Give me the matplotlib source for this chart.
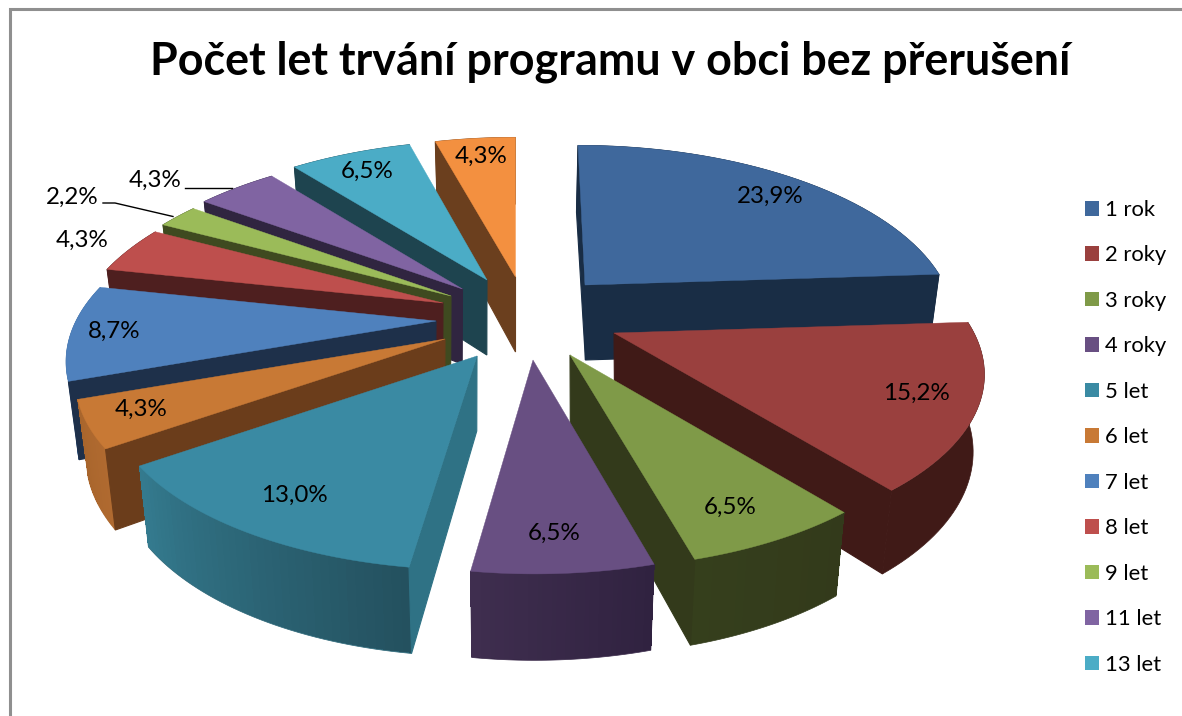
import numpy as np
import matplotlib
matplotlib.use("Agg")
import matplotlib.pyplot as plt
from matplotlib.patches import Polygon, Patch
from matplotlib.colors import to_rgb

categories = ["1 rok", "2 roky", "3 roky", "4 roky", "5 let", "6 let", "7 let", "8 let", "9 let", "11 let", "13 let", ""]
values = [23.9, 15.2, 6.5, 6.5, 13.0, 4.3, 8.7, 4.3, 2.2, 4.3, 6.5, 4.3]
labels = ["23,9%", "15,2%", "6,5%", "6,5%", "13,0%", "4,3%", "8,7%", "4,3%", "2,2%", "4,3%", "6,5%", "4,3%"]
title = "Počet let trvání programu v obci bez přerušení"

# styling: explosion of each slice (pixels right / up from pie centre), colours
explode_x = [70, 99, 55, 18, -38, -70, -79, -72, -64, -52.5, -28, 0.5]
explode_y = [35, -13, -35, -40, -36, -19, -1, 17, 24, 31, 40, 43]
top_col = ["#3F689C", "#9A403E", "#7F9A48", "#684F82", "#3A8AA3", "#C87935",
           "#4F81BD", "#BE4F4D", "#9BBB59", "#8064A2", "#4BACC6", "#F39040"]
face_col = ["#192D45", "#401A17", "#333A1B", "#302240", "#2F7285", "#6B3D1B",
            "#1E304A", "#4E1F1F", "#3F4A20", "#302540", "#1E444F", "#6B3F1E"]
arc_a = ["#192D45", "#401A17", "#333A1B", "#302240", "#24515F", "#B06A30",
         "#3A6AA0", "#4E1F1F", "#3F4A20", "#302540", "#1E444F", "#6B3F1E"]
arc_b = ["#192D45", "#401A17", "#353F1C", "#3F2E4F", "#347A8E", "#A8652C",
         "#3A6AA0", "#4E1F1F", "#3F4A20", "#302540", "#1E444F", "#6B3F1E"]
label_xy = [(770, 196), (916, 393), (730, 507), (554, 533), (294, 495), (141, 409),
            (114, 331), (82, 240), (72, 197), (155, 180), (367, 171), (481, 156)]

CX, CY = 515, 320
A, B, K, H = 360, 169, 0.21, 75
LEAN = 0.1
XSHRINK = 0.976


def top_pt(i, th):
    X, Y = np.sin(th), np.cos(th)
    s = 1 / (1 + K * Y)
    ax_, ay_ = CX + explode_x[i], CY - explode_y[i]
    return ax_ + A * X * s - LEAN * (ax_ - CX) * Y, ay_ - B * Y * s


def bot_pt(i, th, apex=False):
    if apex:
        ax_, ay_ = CX + explode_x[i], CY - explode_y[i]
        return CX + (ax_ - CX) * (XSHRINK + 0.03), ay_ + H
    x, y = top_pt(i, th)
    s = 1 / (1 + K * np.cos(th))
    return CX + (x - CX) * XSHRINK, y + H * s ** 0.6


def shoelace(q):
    q = np.array(q)
    return 0.5 * np.sum(q[:, 0] * np.roll(q[:, 1], -1) - np.roll(q[:, 0], -1) * q[:, 1])


fig = plt.figure(figsize=(11.82, 7.16), dpi=100)
ax = fig.add_axes([0, 0, 1, 1])
ax.set_xlim(0, 1182)
ax.set_ylim(716, 0)
ax.axis("off")

ax.plot([9.5, 9.5, 1182], [716, 8.5, 8.5], color="#8f8f8f", lw=2.2, solid_joinstyle="miter", zorder=1)

cum = np.cumsum([0] + values)
cum = cum / cum[-1] * 2 * np.pi
centroid = []
for i in range(len(values)):
    ths = np.linspace(cum[i], cum[i + 1], 40)
    pts = np.array([top_pt(i, t) for t in ths])
    apex = (CX + explode_x[i], CY - explode_y[i])
    centroid.append((pts[:, 1].mean() * 2 + apex[1]) / 3)

order = np.argsort(centroid)
z = 2
for i in order:
    ths = np.linspace(cum[i], cum[i + 1], 40)
    apex = (CX + explode_x[i], CY - explode_y[i])
    apex_b = bot_pt(i, 0, apex=True)
    fc = face_col[i]
    ca, cb = np.array(to_rgb(arc_a[i])), np.array(to_rgb(arc_b[i]))
    # outer wall: smooth silhouette first, gradient strips inset above it
    wall = [top_pt(i, t) for t in ths] + [bot_pt(i, t) for t in ths[::-1]]
    ax.add_patch(Polygon(wall, closed=True, fc=(ca + cb) / 2, ec=(ca + cb) / 2, lw=0.5, zorder=z))
    z += 1
    if arc_a[i] != arc_b[i]:
        for j in range(len(ths) - 1):
            f = j / (len(ths) - 2)
            c = ca * (1 - f) + cb * f
            b0, b1 = bot_pt(i, ths[j]), bot_pt(i, ths[j + 1])
            q = [top_pt(i, ths[j]), top_pt(i, ths[j + 1]), (b1[0], b1[1] - 1.2), (b0[0], b0[1] - 1.2)]
            ax.add_patch(Polygon(q, closed=True, fc=c, ec="none", antialiased=False, zorder=z))
            z += 1
    # radial faces that look towards the viewer
    for t, sign in ((cum[i], -1), (cum[i + 1], 1)):
        q = [apex, top_pt(i, t), bot_pt(i, t), apex_b]
        if shoelace(q) * sign > 0:
            ax.add_patch(Polygon(q, closed=True, fc=fc, ec=fc, lw=0.8, zorder=z))
            z += 1
    poly = [apex] + [top_pt(i, t) for t in ths]
    ax.add_patch(Polygon(poly, closed=True, fc=top_col[i], ec=top_col[i], lw=0.3, zorder=z))
    z += 1

ZT = z + 1
ax.plot([103, 115, 173], [203, 203, 216.5], color="black", lw=1.0, zorder=ZT)
ax.plot([185, 232], [188, 188], color="black", lw=1.0, zorder=ZT)

for t, (x, y) in zip(labels, label_xy):
    ax.text(x, y, t, ha="center", va="center", fontsize=17.4, family="Lato", color="black", zorder=ZT)

ax.text(610, 61.5, title, ha="center", va="center", fontsize=32.3, family="Lato", fontweight="bold",
        color="black", zorder=ZT)

handles = [Patch(fc=top_col[i], ec="none", label=categories[i]) for i in range(11)]
leg = ax.legend(handles=handles, loc="upper left", bbox_to_anchor=(1085 / 1182, 1 - 200 / 716), frameon=False,
                prop={"family": "Lato", "size": 15.8}, handlelength=0.64, handleheight=0.64,
                labelspacing=1.16, handletextpad=0.28, borderpad=0, borderaxespad=0)

fig.savefig("out.png", dpi=100)
